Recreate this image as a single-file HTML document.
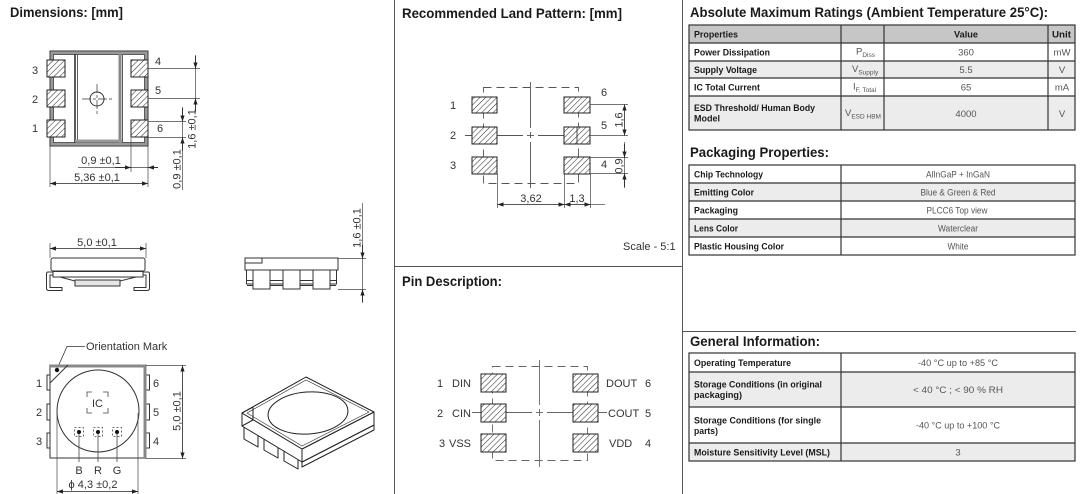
<!DOCTYPE html>
<html><head><meta charset="utf-8"><style>
html,body{margin:0;padding:0;background:#fff;}
svg{display:block;}
.t{font-family:"Liberation Sans",sans-serif;font-weight:bold;fill:#1a1a1a;font-size:14px;}
.d{font-family:"Liberation Sans",sans-serif;fill:#333;font-size:11px;}
.b{font-family:"Liberation Sans",sans-serif;font-weight:bold;fill:#1a1a1a;font-size:9.5px;}
.v{font-family:"Liberation Sans",sans-serif;fill:#555;font-size:9.5px;}
</style></head><body>
<svg width="1084" height="494" viewBox="0 0 1084 494" xmlns="http://www.w3.org/2000/svg">
<defs>
<pattern id="h" width="4" height="4" patternUnits="userSpaceOnUse" patternTransform="rotate(45)">
<rect width="4" height="4" fill="#fff"/>
<line x1="0" y1="0" x2="0" y2="4" stroke="#333" stroke-width="1.1"/>
</pattern>
<marker id="ar" viewBox="0 0 10 10" refX="10" refY="5" markerWidth="6" markerHeight="6" markerUnits="userSpaceOnUse" orient="auto-start-reverse">
<path d="M0,1.5 L10,5 L0,8.5 z" fill="#222"/>
</marker>
</defs>

<!-- panel dividers -->
<g stroke="#555" stroke-width="1">
<line x1="394.5" y1="0" x2="394.5" y2="494"/>
<line x1="682.5" y1="0" x2="682.5" y2="494"/>
<line x1="395" y1="266.5" x2="682" y2="266.5"/>
<line x1="682" y1="331.5" x2="1076" y2="331.5"/>
</g>

<!-- titles -->
<text class="t" x="10" y="17" textLength="113" lengthAdjust="spacingAndGlyphs">Dimensions: [mm]</text>
<text class="t" x="402" y="18" textLength="220" lengthAdjust="spacingAndGlyphs">Recommended Land Pattern: [mm]</text>
<text class="t" x="690" y="17" textLength="358" lengthAdjust="spacingAndGlyphs">Absolute Maximum Ratings (Ambient Temperature 25°C):</text>
<text class="t" x="690" y="157" textLength="139" lengthAdjust="spacingAndGlyphs">Packaging Properties:</text>
<text class="t" x="402" y="286" textLength="100" lengthAdjust="spacingAndGlyphs">Pin Description:</text>
<text class="t" x="690" y="346" textLength="130" lengthAdjust="spacingAndGlyphs">General Information:</text>

<!-- ===== Top-left package top view ===== -->
<g fill="none" stroke="#333">
<rect x="50" y="51" width="98" height="95" stroke-width="1"/>
<rect x="51.8" y="52.8" width="94.4" height="91.4" stroke="#999" stroke-width="2.4"/>
<rect x="53.5" y="54.5" width="91" height="88" stroke-width="0.8"/>
<line x1="75" y1="54" x2="75" y2="143" stroke-width="1.6"/>
<line x1="77.5" y1="55" x2="77.5" y2="142" stroke-width="0.8"/>
<line x1="120" y1="54" x2="120" y2="143" stroke="#888" stroke-width="3"/>
<line x1="122.5" y1="55" x2="122.5" y2="142" stroke-width="0.8"/>
<rect x="75" y="139.5" width="47" height="3" fill="#999" stroke="none"/>
<circle cx="97" cy="99" r="7" stroke-width="1"/>
<line x1="97" y1="84" x2="97" y2="115" stroke-width="0.7" stroke-dasharray="9,2,3,2"/>
<line x1="82" y1="99" x2="113" y2="99" stroke-width="0.7" stroke-dasharray="9,2,3,2"/>
</g>
<g fill="url(#h)" stroke="#222" stroke-width="1">
<rect x="47" y="60" width="18" height="17"/>
<rect x="47" y="90" width="18" height="17"/>
<rect x="47" y="120" width="18" height="17"/>
<rect x="131" y="60" width="17" height="17"/>
<rect x="131" y="90" width="17" height="17"/>
<rect x="131" y="120" width="17" height="17"/>
</g>
<g class="d" text-anchor="middle">
<text x="35" y="74">3</text><text x="35" y="103">2</text><text x="35" y="132">1</text>
<text x="158" y="65">4</text><text x="158" y="94">5</text><text x="160" y="132">6</text>
</g>
<g stroke="#444" stroke-width="0.7" fill="none">
<line x1="148" y1="68.5" x2="200" y2="68.5"/>
<line x1="148" y1="98.5" x2="200" y2="98.5"/>
<line x1="148" y1="121.5" x2="186" y2="121.5"/>
<line x1="148" y1="137.5" x2="186" y2="137.5"/>
<line x1="131" y1="138" x2="131" y2="172"/>
<line x1="148" y1="146" x2="148" y2="187"/>
<line x1="50" y1="146" x2="50" y2="187"/>
<line x1="195.5" y1="55" x2="195.5" y2="112"/>
<line x1="182.5" y1="107" x2="182.5" y2="190"/>
<line x1="78" y1="167.5" x2="158" y2="167.5"/>
</g>
<g stroke="#222" stroke-width="0.8" fill="none" marker-end="url(#ar)">
<line x1="195.5" y1="56" x2="195.5" y2="68.5"/>
<line x1="195.5" y1="111" x2="195.5" y2="98.5"/>
<line x1="182.5" y1="108" x2="182.5" y2="121.5"/>
<line x1="182.5" y1="151" x2="182.5" y2="137.5"/>
<line x1="115" y1="167.5" x2="131" y2="167.5"/>
<line x1="158" y1="167.5" x2="148" y2="167.5"/>
</g>
<line x1="50" y1="183.5" x2="148" y2="183.5" stroke="#222" stroke-width="0.8" marker-start="url(#ar)" marker-end="url(#ar)"/>
<text class="d" x="101" y="164" text-anchor="middle">0,9 ±0,1</text>
<text class="d" x="97" y="181" text-anchor="middle">5,36 ±0,1</text>
<text class="d" transform="translate(195.5,129) rotate(-90)" text-anchor="middle">1,6 ±0,1</text>
<text class="d" transform="translate(180.5,169) rotate(-90)" text-anchor="middle">0,9 ±0,1</text>

<!-- ===== Side view left ===== -->
<g stroke="#444" stroke-width="0.7">
<line x1="50" y1="243" x2="50" y2="258"/>
<line x1="146" y1="243" x2="146" y2="258"/>
</g>
<line x1="50" y1="248.5" x2="146" y2="248.5" stroke="#222" stroke-width="0.8" marker-start="url(#ar)" marker-end="url(#ar)"/>
<text class="d" x="97" y="246" text-anchor="middle">5,0 ±0,1</text>
<g stroke="#333" stroke-width="1" fill="#fff">
<path d="M56,272 L48,272 Q46.5,272 46.5,274 L46.5,288 Q46.5,290.5 49,290.5 L62,290.5 L62,287.5 L50,287.5 L50,275 L56,275 Z"/>
<path d="M140,272 L148,272 Q149.5,272 149.5,274 L149.5,288 Q149.5,290.5 147,290.5 L134,290.5 L134,287.5 L146,287.5 L146,275 L140,275 Z"/>
<rect x="51" y="258" width="94" height="13" rx="2"/>
<rect x="53" y="271.5" width="90" height="5.5"/>
<rect x="75" y="280" width="45" height="6" fill="#e6e6e6"/>
<line x1="60" y1="277" x2="75" y2="281" fill="none"/>
<line x1="136" y1="277" x2="120" y2="281" fill="none"/>
</g>

<!-- ===== Side view right ===== -->
<g stroke="#333" stroke-width="1" fill="#fff">
<line x1="247" y1="280.5" x2="336" y2="280.5"/>
<line x1="247" y1="285.5" x2="336" y2="285.5"/>
<rect x="245" y="258" width="93" height="12"/>
<rect x="245" y="258" width="17" height="5"/>
<rect x="246.5" y="270" width="90" height="14" fill="none"/>
<rect x="253" y="270" width="17" height="19"/>
<rect x="283" y="270" width="17" height="19"/>
<rect x="313" y="270" width="17" height="19"/>
</g>
<g stroke="#444" stroke-width="0.7">
<line x1="338" y1="258.5" x2="366" y2="258.5"/>
<line x1="338" y1="289.5" x2="366" y2="289.5"/>
<line x1="362.5" y1="203" x2="362.5" y2="303"/>
</g>
<g stroke="#222" stroke-width="0.8" marker-end="url(#ar)">
<line x1="362.5" y1="245" x2="362.5" y2="258.5"/>
<line x1="362.5" y1="302" x2="362.5" y2="289.5"/>
</g>
<text class="d" transform="translate(360.5,228) rotate(-90)" text-anchor="middle">1,6 ±0,1</text>

<!-- ===== Bottom-left top view ===== -->
<text class="d" x="86" y="350">Orientation Mark</text>
<polyline points="85,346.5 67,346.5 57,369" fill="none" stroke="#333" stroke-width="0.8"/>
<g fill="#fff" stroke="#333" stroke-width="1">
<rect x="47" y="375" width="3.5" height="15"/>
<rect x="47" y="404" width="3.5" height="16"/>
<rect x="47" y="433" width="3.5" height="15"/>
<rect x="146" y="375" width="3.5" height="15"/>
<rect x="146" y="404" width="3.5" height="16"/>
<rect x="146" y="433" width="3.5" height="15"/>
<rect x="50" y="365" width="96" height="93"/>
</g>
<line x1="50" y1="366" x2="146" y2="366" stroke="#888" stroke-width="3"/>
<line x1="145" y1="365" x2="145" y2="458" stroke="#888" stroke-width="3"/>
<line x1="50" y1="383" x2="68" y2="365" stroke="#333" stroke-width="1"/>
<circle cx="57" cy="370" r="2.2" fill="#111"/>
<circle cx="98" cy="411" r="41" fill="none" stroke="#333" stroke-width="1"/>
<g fill="none" stroke="#444" stroke-width="0.8">
<path d="M87,397 V392 H92 M103,392 H108 V397 M108,408 V413 H103 M92,413 H87 V408"/>
<rect x="74.5" y="427.5" width="9" height="9" stroke-dasharray="2,2"/>
<rect x="93.5" y="427.5" width="9" height="9" stroke-dasharray="2,2"/>
<rect x="112.5" y="427.5" width="9" height="9" stroke-dasharray="2,2"/>
<line x1="79" y1="432" x2="79" y2="462"/>
<line x1="98" y1="432" x2="98" y2="462"/>
<line x1="117" y1="432" x2="117" y2="462"/>
</g>
<g fill="#111"><circle cx="79" cy="432" r="2"/><circle cx="98" cy="432" r="2"/><circle cx="117" cy="432" r="2"/></g>
<text class="d" x="97.5" y="407" text-anchor="middle">IC</text>
<g class="d" text-anchor="middle">
<text x="79" y="474">B</text><text x="98" y="474">R</text><text x="117" y="474">G</text>
<text x="39" y="387">1</text><text x="39" y="416">2</text><text x="39" y="445">3</text>
<text x="156" y="387">6</text><text x="156" y="416">5</text><text x="156" y="445">4</text>
</g>
<g stroke="#444" stroke-width="0.7">
<line x1="146" y1="365.5" x2="186" y2="365.5"/>
<line x1="146" y1="458.5" x2="186" y2="458.5"/>
<line x1="57" y1="413" x2="57" y2="494"/>
<line x1="138" y1="413" x2="138" y2="494"/>
</g>
<line x1="182.5" y1="365.5" x2="182.5" y2="458.5" stroke="#222" stroke-width="0.8" marker-start="url(#ar)" marker-end="url(#ar)"/>
<line x1="57" y1="491.5" x2="138" y2="491.5" stroke="#222" stroke-width="0.8" marker-start="url(#ar)" marker-end="url(#ar)"/>
<text class="d" transform="translate(180.5,411) rotate(-90)" text-anchor="middle">5,0 ±0,1</text>
<text class="d" x="93" y="488" text-anchor="middle">ϕ 4,3 ±0,2</text>

<!-- ===== 3D view ===== -->
<g stroke="#222" stroke-width="1" fill="#fff" stroke-linejoin="round">
<path d="M244,420 L258,428 L258,447 L244,439 Z"/>
<path d="M264,432 L278,440 L278,458 L264,450 Z"/>
<path d="M284,444 L298,452 L298,469 L284,461 Z"/>
<path d="M302,462 L374,425 L374,430 L302,467 Z"/>
<path d="M242,413 L302,449 L302,462 L242,426 Z"/>
<path d="M302,449 L374,412 L374,425 L302,462 Z"/>
<path d="M242,413 L306,377 L374,412 L302,449 Z"/>
<path d="M247,413 L306,380 L369,412 L302,446 Z" fill="none" stroke-width="0.6"/>
<ellipse cx="308" cy="413" rx="40" ry="21" transform="rotate(-4 308 413)"/>
<path d="M242,413 L253,407 L253,420 L242,426" fill="none"/>
</g>

<!-- ===== Land pattern ===== -->
<g fill="none" stroke="#555" stroke-width="0.9">
<rect x="483.5" y="87.5" width="95" height="96" stroke-dasharray="8,5"/>
<line x1="530.5" y1="82" x2="530.5" y2="128"/>
<line x1="530.5" y1="132" x2="530.5" y2="138"/>
<line x1="530.5" y1="142" x2="530.5" y2="188"/>
<line x1="465" y1="135.5" x2="523" y2="135.5"/>
<line x1="527" y1="135.5" x2="534" y2="135.5"/>
<line x1="538" y1="135.5" x2="590" y2="135.5"/>
</g>
<g fill="url(#h)" stroke="#222" stroke-width="1">
<rect x="472" y="97" width="25" height="16"/>
<rect x="472" y="127" width="25" height="17"/>
<rect x="472" y="157" width="25" height="17"/>
<rect x="564" y="97" width="26" height="16"/>
<rect x="564" y="127" width="26" height="17"/>
<rect x="564" y="157" width="26" height="17"/>
</g>
<line x1="577" y1="127" x2="577" y2="144" stroke="#222" stroke-width="0.8"/>
<g class="d" text-anchor="middle">
<text x="453" y="109">1</text><text x="453" y="139">2</text><text x="453" y="169">3</text>
<text x="604" y="96">6</text><text x="604" y="129">5</text><text x="604" y="168">4</text>
</g>
<g stroke="#444" stroke-width="0.7">
<line x1="590" y1="104.5" x2="628" y2="104.5"/>
<line x1="590" y1="135.5" x2="628" y2="135.5"/>
<line x1="590" y1="157.5" x2="628" y2="157.5"/>
<line x1="590" y1="173.5" x2="628" y2="173.5"/>
<line x1="624.5" y1="142" x2="624.5" y2="188"/>
<line x1="497.5" y1="174" x2="497.5" y2="208"/>
<line x1="564.5" y1="174" x2="564.5" y2="208"/>
<line x1="590.5" y1="174" x2="590.5" y2="208"/>
<line x1="590" y1="204.5" x2="605" y2="204.5"/>
</g>
<line x1="624.5" y1="104.5" x2="624.5" y2="135.5" stroke="#222" stroke-width="0.8" marker-start="url(#ar)" marker-end="url(#ar)"/>
<line x1="497.5" y1="204.5" x2="564.5" y2="204.5" stroke="#222" stroke-width="0.8" marker-start="url(#ar)" marker-end="url(#ar)"/>
<line x1="564.5" y1="204.5" x2="590.5" y2="204.5" stroke="#222" stroke-width="0.8" marker-start="url(#ar)" marker-end="url(#ar)"/>
<g stroke="#222" stroke-width="0.8" marker-end="url(#ar)">
<line x1="624.5" y1="144" x2="624.5" y2="157.5"/>
<line x1="624.5" y1="187" x2="624.5" y2="173.5"/>
</g>
<text class="d" transform="translate(622.5,120) rotate(-90)" text-anchor="middle">1,6</text>
<text class="d" transform="translate(622.5,166) rotate(-90)" text-anchor="middle">0,9</text>
<text class="d" x="531" y="202" text-anchor="middle">3,62</text>
<text class="d" x="577" y="202" text-anchor="middle">1,3</text>
<text class="d" x="623" y="250" font-size="10.5">Scale - 5:1</text>

<!-- ===== Pin description ===== -->
<g fill="none" stroke="#666" stroke-width="0.9">
<rect x="492.5" y="366.5" width="95" height="94" stroke-dasharray="8,5"/>
<line x1="539.5" y1="360" x2="539.5" y2="405"/>
<line x1="539.5" y1="409" x2="539.5" y2="416"/>
<line x1="539.5" y1="420" x2="539.5" y2="467"/>
<line x1="472" y1="412.5" x2="532" y2="412.5"/>
<line x1="536" y1="412.5" x2="543" y2="412.5"/>
<line x1="547" y1="412.5" x2="607" y2="412.5"/>
</g>
<g fill="url(#h)" stroke="#222" stroke-width="1">
<rect x="481" y="374" width="25" height="18"/>
<rect x="481" y="404" width="25" height="18"/>
<rect x="481" y="434" width="25" height="18"/>
<rect x="573" y="374" width="25" height="18"/>
<rect x="573" y="404" width="25" height="18"/>
<rect x="573" y="434" width="25" height="18"/>
</g>
<g class="d">
<text x="440" y="387" text-anchor="middle">1</text><text x="471" y="387" text-anchor="end">DIN</text>
<text x="440" y="417" text-anchor="middle">2</text><text x="471" y="417" text-anchor="end">CIN</text>
<text x="442" y="447" text-anchor="middle">3</text><text x="471" y="447" text-anchor="end">VSS</text>
<text x="606" y="387">DOUT</text><text x="648" y="387" text-anchor="middle">6</text>
<text x="608" y="417">COUT</text><text x="648" y="417" text-anchor="middle">5</text>
<text x="609" y="447">VDD</text><text x="648" y="447" text-anchor="middle">4</text>
</g>

<!-- ===== Table 1: Absolute Max ===== -->
<g stroke="none">
<rect x="689" y="25" width="386" height="18" fill="#c6c6c6"/>
<rect x="689" y="61" width="386" height="17" fill="#ececec"/>
<rect x="689" y="96" width="386" height="34" fill="#ececec"/>
</g>
<g stroke="#333" stroke-width="1.2" fill="none">
<rect x="689" y="25" width="386" height="105"/>
<line x1="689" y1="43" x2="1075" y2="43"/>
<line x1="689" y1="61" x2="1075" y2="61"/>
<line x1="689" y1="78" x2="1075" y2="78"/>
<line x1="689" y1="96" x2="1075" y2="96"/>
<line x1="841" y1="25" x2="841" y2="130"/>
<line x1="884" y1="25" x2="884" y2="130"/>
<line x1="1048" y1="25" x2="1048" y2="130"/>
</g>
<g class="b">
<text x="694" y="37.5" textLength="44" lengthAdjust="spacingAndGlyphs">Properties</text>
<text x="954" y="37.5" textLength="24" lengthAdjust="spacingAndGlyphs">Value</text>
<text x="1052" y="37.5" textLength="19" lengthAdjust="spacingAndGlyphs">Unit</text>
<text x="694" y="55.5" textLength="76" lengthAdjust="spacingAndGlyphs">Power Dissipation</text>
<text x="694" y="73" textLength="63" lengthAdjust="spacingAndGlyphs">Supply Voltage</text>
<text x="694" y="90.5" textLength="66" lengthAdjust="spacingAndGlyphs">IC Total Current</text>
<text x="694" y="111" textLength="121" lengthAdjust="spacingAndGlyphs">ESD Threshold/ Human Body</text>
<text x="694" y="121.5" textLength="26" lengthAdjust="spacingAndGlyphs">Model</text>
</g>
<g class="v">
<text x="856" y="54.5">P<tspan font-size="6.5" dy="2.5">Diss</tspan></text>
<text x="852" y="72">V<tspan font-size="6.5" dy="2.5">Supply</tspan></text>
<text x="853" y="89.5">I<tspan font-size="6.5" dy="2.5">F, Total</tspan></text>
<text x="845" y="116">V<tspan font-size="6.5" dy="2.5">ESD HBM</tspan></text>
</g>
<g class="v" text-anchor="middle">
<text x="966" y="55.5">360</text>
<text x="966" y="73">5.5</text>
<text x="966" y="90.5">65</text>
<text x="966" y="117">4000</text>
<text x="1062" y="55.5">mW</text>
<text x="1062" y="73">V</text>
<text x="1062" y="90.5">mA</text>
<text x="1062" y="117">V</text>
</g>

<!-- ===== Table 2: Packaging ===== -->
<g stroke="none" fill="#ececec">
<rect x="689" y="183" width="386" height="18"/>
<rect x="689" y="219" width="386" height="18"/>
</g>
<g stroke="#333" stroke-width="1.2" fill="none">
<rect x="689" y="165" width="386" height="90"/>
<line x1="689" y1="183" x2="1075" y2="183"/>
<line x1="689" y1="201" x2="1075" y2="201"/>
<line x1="689" y1="219" x2="1075" y2="219"/>
<line x1="689" y1="237" x2="1075" y2="237"/>
<line x1="841" y1="165" x2="841" y2="255"/>
</g>
<g class="b">
<text x="694" y="177.5" textLength="69" lengthAdjust="spacingAndGlyphs">Chip Technology</text>
<text x="694" y="195.5" textLength="60" lengthAdjust="spacingAndGlyphs">Emitting Color</text>
<text x="694" y="213.5" textLength="44" lengthAdjust="spacingAndGlyphs">Packaging</text>
<text x="694" y="231.5" textLength="44" lengthAdjust="spacingAndGlyphs">Lens Color</text>
<text x="694" y="249.5" textLength="90" lengthAdjust="spacingAndGlyphs">Plastic Housing Color</text>
</g>
<g class="v" text-anchor="middle">
<text x="958" y="177.5" textLength="64" lengthAdjust="spacingAndGlyphs">AlInGaP + InGaN</text>
<text x="958" y="195.5" textLength="75" lengthAdjust="spacingAndGlyphs">Blue &amp; Green &amp; Red</text>
<text x="957" y="213.5" textLength="61" lengthAdjust="spacingAndGlyphs">PLCC6 Top view</text>
<text x="958" y="231.5" textLength="40" lengthAdjust="spacingAndGlyphs">Waterclear</text>
<text x="958" y="249.5" textLength="21" lengthAdjust="spacingAndGlyphs">White</text>
</g>

<!-- ===== Table 3: General ===== -->
<g stroke="none" fill="#ececec">
<rect x="689" y="372" width="386" height="35"/>
<rect x="689" y="443" width="386" height="18"/>
</g>
<g stroke="#333" stroke-width="1.2" fill="none">
<rect x="689" y="353" width="386" height="108"/>
<line x1="689" y1="372" x2="1075" y2="372"/>
<line x1="689" y1="407" x2="1075" y2="407"/>
<line x1="689" y1="443" x2="1075" y2="443"/>
<line x1="841" y1="353" x2="841" y2="461"/>
</g>
<g class="b">
<text x="694" y="366" textLength="97" lengthAdjust="spacingAndGlyphs">Operating Temperature</text>
<text x="694" y="387.5" textLength="128" lengthAdjust="spacingAndGlyphs">Storage Conditions (in original</text>
<text x="694" y="398" textLength="48" lengthAdjust="spacingAndGlyphs">packaging)</text>
<text x="694" y="423.5" textLength="127" lengthAdjust="spacingAndGlyphs">Storage Conditions (for single</text>
<text x="694" y="434" textLength="24" lengthAdjust="spacingAndGlyphs">parts)</text>
<text x="694" y="455.5" textLength="136" lengthAdjust="spacingAndGlyphs">Moisture Sensitivity Level (MSL)</text>
</g>
<g class="v" text-anchor="middle">
<text x="958" y="366" textLength="80" lengthAdjust="spacingAndGlyphs">-40 °C up to +85 °C</text>
<text x="958" y="393" textLength="90" lengthAdjust="spacingAndGlyphs">&lt;  40 °C ; &lt;  90 %  RH</text>
<text x="958" y="428.5" textLength="84" lengthAdjust="spacingAndGlyphs">-40 °C up to +100 °C</text>
<text x="958" y="455.5">3</text>
</g>
</svg>
</body></html>
